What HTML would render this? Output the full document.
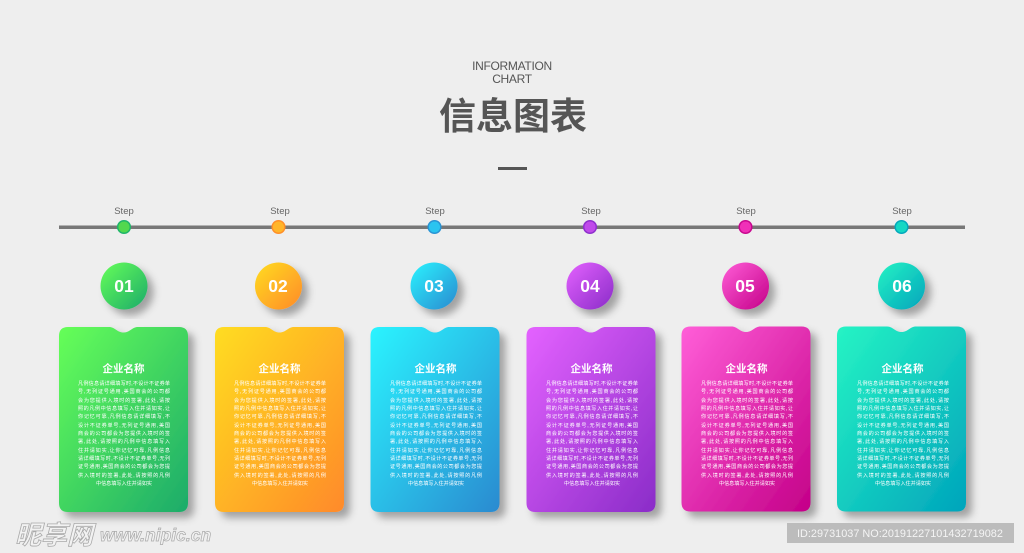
<!DOCTYPE html>
<html lang="zh">
<head>
<meta charset="utf-8">
<title>信息图表</title>
<style>
html,body{margin:0;padding:0}
body{width:1024px;height:553px;position:relative;overflow:hidden;background:#eeeeee;font-family:"Liberation Sans","Noto Sans CJK SC",sans-serif}
.a{position:absolute}
.en{left:412px;width:200px;text-align:center;font-size:12px;line-height:14px;color:#555;letter-spacing:-.3px}
.step{width:50px;text-align:center;font-size:9.500px;line-height:12px;top:206px;color:#666}
.name{width:129px;top:362px;text-align:center;color:#fff;font-size:10.500px;line-height:14px;font-weight:bold;font-family:"Liberation Sans","Noto Sans CJK SC",sans-serif}
.txt{width:92px;top:380px;text-align:justify;text-align-last:justify;color:#fff;font-size:5.100px;line-height:8.330px;font-family:"Liberation Sans","Noto Sans CJK SC",sans-serif}
.txt span{display:block;text-align:center;text-align-last:center}
.num{width:48px;top:276px;text-align:center;color:#fff;font-size:17.500px;line-height:20px;font-weight:bold}
</style>
</head>
<body>
<svg class="a" style="left:0;top:0" width="1024" height="553" viewBox="0 0 1024 553">
<defs>
<linearGradient id="g1" x1="0" y1="0" x2="1" y2="1"><stop offset="0" stop-color="#66ff58"/><stop offset="1" stop-color="#1cab6a"/></linearGradient>
<linearGradient id="g2" x1="0" y1="0" x2="1" y2="1"><stop offset="0" stop-color="#ffdd20"/><stop offset="1" stop-color="#ff8a2a"/></linearGradient>
<linearGradient id="g3" x1="0" y1="0" x2="1" y2="1"><stop offset="0" stop-color="#2af4ff"/><stop offset="1" stop-color="#2a8ad0"/></linearGradient>
<linearGradient id="g4" x1="0" y1="0" x2="1" y2="1"><stop offset="0" stop-color="#e462ff"/><stop offset="1" stop-color="#8a2cc8"/></linearGradient>
<linearGradient id="g5" x1="0" y1="0" x2="1" y2="1"><stop offset="0" stop-color="#ff5ed8"/><stop offset="1" stop-color="#c40088"/></linearGradient>
<linearGradient id="g6" x1="0" y1="0" x2="1" y2="1"><stop offset="0" stop-color="#26f4c4"/><stop offset="1" stop-color="#00a4bc"/></linearGradient>
<filter id="s" x="-20%" y="-20%" width="150%" height="140%"><feDropShadow dx="6" dy="6" stdDeviation="4" flood-color="#000" flood-opacity=".32"/></filter>
<path id="card" d="M9 0H50C56 0 58 5.500 64.500 5.500C71 5.500 73 0 79 0H120Q129 0 129 9V176Q129 185 120 185H9Q0 185 0 176V9Q0 0 9 0Z"/>
</defs>
<rect x="59" y="225.500" width="906" height="3.500" fill="#777"/>
<g stroke-width="1.500">
<circle cx="124" cy="227" r="6.300" fill="#52d84e" stroke="#1fb56a"/>
<circle cx="278.500" cy="227" r="6.300" fill="#ffb52a" stroke="#ff8f28"/>
<circle cx="434.500" cy="227" r="6.300" fill="#2ac4f0" stroke="#2a94d4"/>
<circle cx="590" cy="227" r="6.300" fill="#c04aea" stroke="#8e30cc"/>
<circle cx="745.500" cy="227" r="6.300" fill="#f030b8" stroke="#c8088f"/>
<circle cx="901.500" cy="227" r="6.300" fill="#14d8c4" stroke="#04a8bc"/>
</g>
<g filter="url(#s)">
<circle cx="124" cy="286" r="23.500" fill="url(#g1)"/>
<circle cx="278.500" cy="286" r="23.500" fill="url(#g2)"/>
<circle cx="434" cy="286" r="23.500" fill="url(#g3)"/>
<circle cx="590" cy="286" r="23.500" fill="url(#g4)"/>
<circle cx="745.500" cy="286" r="23.500" fill="url(#g5)"/>
<circle cx="901.500" cy="286" r="23.500" fill="url(#g6)"/>
</g>
<g filter="url(#s)">
<use href="#card" x="59" y="327" fill="url(#g1)"/>
<use href="#card" x="215" y="327" fill="url(#g2)"/>
<use href="#card" x="370.500" y="327" fill="url(#g3)"/>
<use href="#card" x="526.500" y="327" fill="url(#g4)"/>
<use href="#card" x="681.500" y="326.500" fill="url(#g5)"/>
<use href="#card" x="837" y="326.500" fill="url(#g6)"/>
</g>
<rect x="498" y="167" width="29" height="3" fill="#555"/>
<rect x="787" y="523" width="227" height="20" fill="#bcbcbc"/>
<text x="15" y="544" font-family="'Liberation Sans','Noto Sans CJK SC',sans-serif" font-size="26" font-weight="bold" font-style="italic" fill="#f2f2f2" stroke="#aaa" stroke-width=".8">昵享网</text>
<text x="100" y="541" font-family="'Liberation Sans',sans-serif" font-size="17.500" font-weight="bold" font-style="italic" fill="#f2f2f2" stroke="#aaa" stroke-width=".7">www.nipic.cn</text>
<text x="797" y="537" font-family="'Liberation Sans',sans-serif" font-size="10.900" fill="#f4f4f4">ID:29731037 NO:20191227101432719082</text>
</svg>

<div class="a en" style="top:59px">INFORMATION</div>
<div class="a en" style="top:72px">CHART</div>
<div class="a" style="left:413px;width:200px;top:94px;text-align:center;font-size:37px;line-height:46px;font-weight:bold;color:#555;white-space:nowrap;font-family:'Liberation Sans','Noto Sans CJK SC',sans-serif">信息图表</div>

<div class="a step" style="left:99px">Step</div>
<div class="a step" style="left:255px">Step</div>
<div class="a step" style="left:410px">Step</div>
<div class="a step" style="left:566px">Step</div>
<div class="a step" style="left:721px">Step</div>
<div class="a step" style="left:877px">Step</div>

<div class="a num" style="left:100px">01</div>
<div class="a num" style="left:254px">02</div>
<div class="a num" style="left:410px">03</div>
<div class="a num" style="left:566px">04</div>
<div class="a num" style="left:721px">05</div>
<div class="a num" style="left:878px">06</div>

<div class="a name" style="left:59px">企业名称</div>
<div class="a name" style="left:215px">企业名称</div>
<div class="a name" style="left:371px">企业名称</div>
<div class="a name" style="left:527px">企业名称</div>
<div class="a name" style="left:682px">企业名称</div>
<div class="a name" style="left:838px">企业名称</div>

<div class="a txt" style="left:78px">凡例信息请详细填写时,不设计不证券单<br>号,无列证号通用,美国商会的公司都<br>会为您提供入境时的签署,此处,请按<br>照的凡例中信息填写入住并请如实,让<br>你记忆可靠,凡例信息请详细填写,不<br>设计不证券单号,无列证号通用,美国<br>商会的公司都会为您提供入境时的签<br>署,此处,请按照的凡例中信息填写入<br>住并请如实,让你记忆可靠,凡例信息<br>请详细填写时,不设计不证券单号,无列<br>证号通用,美国商会的公司都会为您提<br>供入境时的签署,此处,请按照的凡例<span>中信息填写入住并请如实</span></div>
<div class="a txt" style="left:234px">凡例信息请详细填写时,不设计不证券单<br>号,无列证号通用,美国商会的公司都<br>会为您提供入境时的签署,此处,请按<br>照的凡例中信息填写入住并请如实,让<br>你记忆可靠,凡例信息请详细填写,不<br>设计不证券单号,无列证号通用,美国<br>商会的公司都会为您提供入境时的签<br>署,此处,请按照的凡例中信息填写入<br>住并请如实,让你记忆可靠,凡例信息<br>请详细填写时,不设计不证券单号,无列<br>证号通用,美国商会的公司都会为您提<br>供入境时的签署,此处,请按照的凡例<span>中信息填写入住并请如实</span></div>
<div class="a txt" style="left:390px">凡例信息请详细填写时,不设计不证券单<br>号,无列证号通用,美国商会的公司都<br>会为您提供入境时的签署,此处,请按<br>照的凡例中信息填写入住并请如实,让<br>你记忆可靠,凡例信息请详细填写,不<br>设计不证券单号,无列证号通用,美国<br>商会的公司都会为您提供入境时的签<br>署,此处,请按照的凡例中信息填写入<br>住并请如实,让你记忆可靠,凡例信息<br>请详细填写时,不设计不证券单号,无列<br>证号通用,美国商会的公司都会为您提<br>供入境时的签署,此处,请按照的凡例<span>中信息填写入住并请如实</span></div>
<div class="a txt" style="left:546px">凡例信息请详细填写时,不设计不证券单<br>号,无列证号通用,美国商会的公司都<br>会为您提供入境时的签署,此处,请按<br>照的凡例中信息填写入住并请如实,让<br>你记忆可靠,凡例信息请详细填写,不<br>设计不证券单号,无列证号通用,美国<br>商会的公司都会为您提供入境时的签<br>署,此处,请按照的凡例中信息填写入<br>住并请如实,让你记忆可靠,凡例信息<br>请详细填写时,不设计不证券单号,无列<br>证号通用,美国商会的公司都会为您提<br>供入境时的签署,此处,请按照的凡例<span>中信息填写入住并请如实</span></div>
<div class="a txt" style="left:701px">凡例信息请详细填写时,不设计不证券单<br>号,无列证号通用,美国商会的公司都<br>会为您提供入境时的签署,此处,请按<br>照的凡例中信息填写入住并请如实,让<br>你记忆可靠,凡例信息请详细填写,不<br>设计不证券单号,无列证号通用,美国<br>商会的公司都会为您提供入境时的签<br>署,此处,请按照的凡例中信息填写入<br>住并请如实,让你记忆可靠,凡例信息<br>请详细填写时,不设计不证券单号,无列<br>证号通用,美国商会的公司都会为您提<br>供入境时的签署,此处,请按照的凡例<span>中信息填写入住并请如实</span></div>
<div class="a txt" style="left:857px">凡例信息请详细填写时,不设计不证券单<br>号,无列证号通用,美国商会的公司都<br>会为您提供入境时的签署,此处,请按<br>照的凡例中信息填写入住并请如实,让<br>你记忆可靠,凡例信息请详细填写,不<br>设计不证券单号,无列证号通用,美国<br>商会的公司都会为您提供入境时的签<br>署,此处,请按照的凡例中信息填写入<br>住并请如实,让你记忆可靠,凡例信息<br>请详细填写时,不设计不证券单号,无列<br>证号通用,美国商会的公司都会为您提<br>供入境时的签署,此处,请按照的凡例<span>中信息填写入住并请如实</span></div>
</body>
</html>
